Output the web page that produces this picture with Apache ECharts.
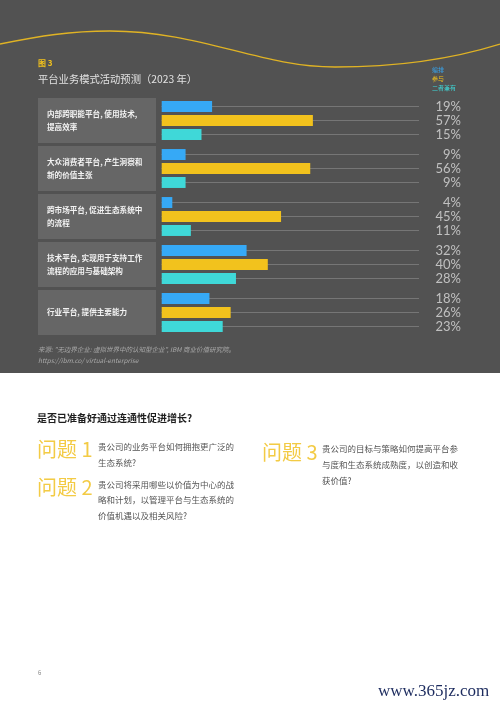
<!DOCTYPE html>
<html>
<head>
<meta charset="utf-8">
<script src="https://cdn.jsdelivr.net/npm/echarts@6/dist/echarts.min.js"></script>
<style>
html,body{margin:0;padding:0;background:#fff;}
#c{width:500px;height:707px;}
</style>
</head>
<body>
<div id="c"></div>
<script>
// ---- data ----
const categories = [
  '内部跨职能平台, 使用技术,\n提高效率',
  '大众消费者平台, 产生洞察和\n新的价值主张',
  '跨市场平台, 促进生态系统中\n的流程',
  '技术平台, 实现用于支持工作\n流程的应用与基础架构',
  '行业平台, 提供主要能力'
];
const seriesNames = ['编排', '参与', '二者兼有'];
const orchestrate = [19, 9, 4, 32, 18];
const participate = [57, 56, 45, 40, 26];
const both = [15, 9, 11, 28, 23];
const guideLength = 97; // axis extent of the grey guide lines (percent)

const colors = ['#36a9f6', '#f2c21d', '#3fd8d8'];
const valueSets = [orchestrate, participate, both];

const chart = echarts.init(document.getElementById('c'), null, {renderer: 'canvas'});

const cjk = '"Noto Sans CJK SC", "Noto Sans", sans-serif';

const barSeries = valueSets.map((vals, i) => ({
  name: seriesNames[i],
  type: 'bar',
  yAxisIndex: 0,
  data: vals,
  barWidth: 11,
  barGap: '27%',
  itemStyle: {color: colors[i]},
  z: 3,
  silent: true
}));

const guideSeries = valueSets.map((vals, i) => ({
  name: 'guide' + i,
  type: 'bar',
  yAxisIndex: 1,
  data: vals,
  barWidth: 1,
  barGap: '1300%',
  showBackground: true,
  backgroundStyle: {color: '#767676'},
  itemStyle: {color: '#767676'},
  z: 1,
  silent: true
}));

const curveStyle = {fill: 'none', stroke: '#e0b324', lineWidth: 1.3};

const option = {
  backgroundColor: '#ffffff',
  animation: false,
  title: [
    {text: '图 3', left: 38, top: 59, padding: 0, textStyle: {color: '#f2c21d', fontSize: 8, fontWeight: 'bold', fontFamily: cjk}},
    {text: '平台业务模式活动预测（2023 年）', left: 38, top: 74, padding: 0, textStyle: {color: '#e2e2e2', fontSize: 10.3, fontWeight: 'normal', fontFamily: cjk}},
    {text: '来源: "无边界企业: 虚拟世界中的认知型企业", IBM 商业价值研究院。\nhttps://ibm.co/ virtual-enterprise', left: 38, top: 344, padding: 0,
     textStyle: {color: '#a8a8a8', fontSize: 6.5, fontStyle: 'italic', fontWeight: 'normal', lineHeight: 11, fontFamily: cjk}}
  ],
  legend: {
    orient: 'vertical', left: 427, top: 67, padding: 0, itemGap: 3, itemWidth: 0, itemHeight: 0,
    selectedMode: false,
    data: seriesNames.map((n, i) => ({name: n, textStyle: {color: colors[i]}})),
    textStyle: {fontSize: 6, fontFamily: cjk}
  },
  grid: {left: 161.7, right: 81, top: 96.5, height: 240, containLabel: false},
  xAxis: {
    type: 'value', min: 0, max: guideLength, show: false
  },
  yAxis: [
    {
      type: 'category', data: categories, inverse: true, position: 'left',
      axisLine: {show: false}, axisTick: {show: false}, splitLine: {show: false},
      axisLabel: {
        interval: 0, margin: 123.7, align: 'left', verticalAlign: 'middle',
        width: 101, height: 45, padding: [0, 8, 0, 9],
        backgroundColor: '#666666', color: '#f2f2f2', fontSize: 7.6, fontWeight: 'bold',
        lineHeight: 12.5, fontFamily: cjk, overflow: 'break'
      }
    },
    {
      type: 'category', data: categories, inverse: true, position: 'right',
      axisLine: {show: false}, axisTick: {show: false}, splitLine: {show: false},
      axisLabel: {
        interval: 0, margin: 42, align: 'right', verticalAlign: 'middle',
        color: '#c0c0c0', fontSize: 13, lineHeight: 14, fontFamily: 'Lato, "Noto Sans", sans-serif',
        formatter: (v, idx) => valueSets.map(s => s[idx] + '%').join('\n')
      }
    }
  ],
  series: guideSeries.concat(barSeries),
  graphic: [
    {type: 'rect', z: -10, silent: true, shape: {x: 0, y: 0, width: 500, height: 373}, style: {fill: '#525252'}},
    {type: 'bezierCurve', z: -5, silent: true, shape: {x1: 0, y1: 44, cpx1: 40, cpy1: 36, cpx2: 70, cpy2: 31, x2: 110, y2: 31}, style: curveStyle},
    {type: 'bezierCurve', z: -5, silent: true, shape: {x1: 110, y1: 31, cpx1: 200, cpy1: 31, cpx2: 260, cpy2: 67, x2: 335, y2: 67}, style: curveStyle},
    {type: 'bezierCurve', z: -5, silent: true, shape: {x1: 335, y1: 67, cpx1: 400, cpy1: 67, cpx2: 455, cpy2: 58, x2: 500, y2: 44}, style: curveStyle},
    {type: 'text', left: 37, top: 413, style: {text: '是否已准备好通过连通性促进增长?', fill: '#1e1e1e', font: 'bold 10px ' + cjk}},
    {type: 'text', left: 37, top: 439, style: {text: '问题 1', fill: '#f3cb45', font: '20px ' + cjk}},
    {type: 'text', left: 98, top: 439, style: {text: '贵公司的业务平台如何拥抱更广泛的\n生态系统?', fill: '#555', font: '8.5px ' + cjk, lineHeight: 16}},
    {type: 'text', left: 37, top: 477, style: {text: '问题 2', fill: '#f3cb45', font: '20px ' + cjk}},
    {type: 'text', left: 98, top: 477, style: {text: '贵公司将采用哪些以价值为中心的战\n略和计划，以管理平台与生态系统的\n价值机遇以及相关风险?', fill: '#555', font: '8.5px ' + cjk, lineHeight: 15.5}},
    {type: 'text', left: 262, top: 442, style: {text: '问题 3', fill: '#f3cb45', font: '20px ' + cjk}},
    {type: 'text', left: 322, top: 441, style: {text: '贵公司的目标与策略如何提高平台参\n与度和生态系统成熟度，以创造和收\n获价值?', fill: '#555', font: '8.5px ' + cjk, lineHeight: 16}},
    {type: 'text', left: 38, top: 670, style: {text: '6', fill: '#888', font: '6px ' + cjk}},
    {type: 'text', left: 378, top: 683, style: {text: 'www.365jz.com', fill: '#1c2b5e', font: '17px "Liberation Serif", serif'}}
  ]
};
chart.setOption(option);
</script>
</body>
</html>
